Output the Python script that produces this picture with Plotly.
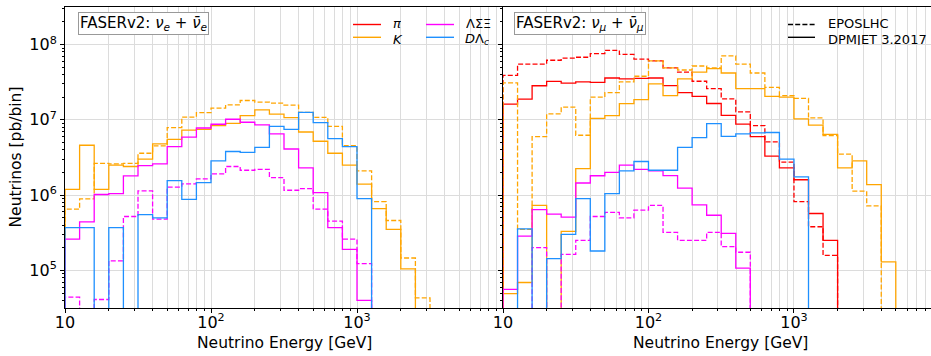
import numpy as np
import plotly.graph_objects as go

W, H = 931, 356

# bin edges: 10 log bins per decade, 10 GeV .. 10 TeV
bin_edges = np.logspace(1, 4, 31)

# ---------------- nu_e panel ----------------
nue_K_epos = [6.5e5, 8.9e5, 2.65e6, 2.6e6, 2.65e6, 3.6e6, 4.5e6, 7.9e6, 1.09e7, 1.25e7,
              1.43e7, 1.58e7, 1.81e7, 1.72e7, 1.67e7, 1.57e7, 1.26e7, 1.08e7, 8.2e6, 4.55e6,
              2.1e6, 8.2e5, 4.6e5, 1.46e5, 4.3e4, 0, 0, 0, 0, 0]
nue_K_dpmjet = [1.19e6, 4.6e6, 1.19e6, 2.5e6, 2.4e6, 3.0e6, 4.8e6, 5.5e6, 7.3e6, 7.5e6,
                8.4e6, 9.0e6, 1.14e7, 1.36e7, 1.19e7, 1.07e7, 6.9e6, 5.2e6, 3.6e6, 2.5e6,
                1.4e6, 6.6e5, 3.5e5, 1.05e5, 0, 0, 0, 0, 0, 0]
nue_L_epos = [4.4e4, 0, 4.1e4, 1.34e5, 5.2e5, 1.14e6, 4.8e5, 1.28e6, 1.41e6, 1.64e6,
              1.92e6, 2.4e6, 2.14e6, 2.2e6, 1.71e6, 1.16e6, 1.22e6, 6.5e5, 4.5e5, 2.6e5,
              1.23e5, 0, 0, 0, 0, 0, 0, 0, 0, 0]
nue_L_dpmjet = [2.6e5, 4.4e5, 1.02e6, 1.05e6, 1.8e6, 2.47e6, 2.6e6, 4.4e6, 5.9e6, 7.8e6,
                8.75e6, 1.02e7, 9.3e6, 8.6e6, 6.5e6, 4.1e6, 2.3e6, 1.08e6, 3.7e5, 1.9e5,
                4.0e4, 0, 0, 0, 0, 0, 0, 0, 0, 0]
nue_D_dpmjet = [3.7e5, 3.7e5, 0, 3.7e5, 0, 5.5e5, 5.0e5, 1.56e6, 8.8e5, 1.47e6,
                2.86e6, 3.8e6, 3.7e6, 4.3e6, 8.2e6, 7.5e6, 1.26e7, 9.2e6, 5.65e6, 4.4e6,
                9.0e5, 0, 0, 0, 0, 0, 0, 0, 0, 0]

# ---------------- nu_mu panel ----------------
numu_pi_epos = [3.9e7, 5.5e7, 5.5e7, 6.2e7, 6.6e7, 6.8e7, 7.6e7, 8.4e7, 7.4e7, 6.4e7,
                6.1e7, 4.9e7, 4.3e7, 3.26e7, 2.6e7, 1.9e7, 1.28e7, 8.4e6, 5.1e6, 2.75e6,
                8.2e5, 3.8e5, 1.58e5, 0, 0, 0, 0, 0, 0, 0]
numu_pi_dpmjet = [1.62e7, 1.89e7, 2.84e7, 3.24e7, 3.08e7, 3.2e7, 3.15e7, 3.6e7, 3.5e7, 3.56e7,
                  3.6e7, 2.85e7, 2.3e7, 2.05e7, 1.65e7, 1.15e7, 8.8e6, 6.0e6, 3.3e6, 2.3e6,
                  1.6e6, 5.7e5, 2.5e5, 0, 0, 0, 0, 0, 0, 0]
numu_K_epos = [3.1e7, 3.5e5, 6.0e6, 1.2e7, 1.48e7, 6.25e6, 2.0e7, 2.3e7, 3.2e7, 3.8e7,
               6.1e7, 4.9e7, 4.6e7, 5.2e7, 4.9e7, 7.1e7, 5.5e7, 4.2e7, 2.7e7, 2.1e7,
               1.93e7, 1.06e7, 6.2e6, 3.5e6, 1.13e6, 7.2e5, 0, 0, 0, 0]
numu_K_dpmjet = [4.9e4, 6.9e4, 7.3e5, 0, 3.3e5, 2.25e6, 1.05e7, 1.14e7, 1.64e7, 1.86e7,
                 3.0e7, 2.1e7, 3.5e7, 4.3e7, 4.8e7, 4.2e7, 2.6e7, 2.6e7, 2.05e7, 2.0e7,
                 1.03e7, 8.5e6, 6.4e6, 2.3e6, 2.85e6, 1.38e6, 1.3e5, 0, 0, 0]
numu_L_epos = [0, 0, 2.0e5, 0, 1.63e5, 2.5e5, 5.2e5, 5.9e5, 5.0e5, 6.3e5,
               7.3e5, 3.2e5, 2.5e5, 2.5e5, 3.2e5, 2.07e5, 1.74e5, 0, 0, 0,
               0, 0, 0, 0, 0, 0, 0, 0, 0, 0]
numu_L_dpmjet = [5.6e4, 2.85e5, 6.4e5, 5.6e5, 5.1e5, 1.45e6, 1.81e6, 2.0e6, 2.5e6, 2.2e6,
                 2.1e6, 1.82e6, 1.24e6, 7.4e5, 5.4e5, 3.1e5, 1.07e5, 0, 0, 0,
                 0, 0, 0, 0, 0, 0, 0, 0, 0, 0]
numu_D_dpmjet = [0, 3.56e5, 0, 1.43e5, 3.0e5, 9.0e5, 1.81e5, 1.05e6, 2.1e6, 2.8e6,
                 2.14e6, 2.14e6, 4.3e6, 5.8e6, 8.9e6, 6.05e6, 6.5e6, 6.7e6, 6.8e6, 3.0e6,
                 1.75e6, 0, 0, 0, 0, 0, 0, 0, 0, 0]

x_tickvals = [10, 100, 1000]
x_ticktext = ["10", "10<sup>2</sup>", "10<sup>3</sup>"]
y_tickvals = [1e5, 1e6, 1e7, 1e8]
y_ticktext = ["10<sup>5</sup>", "10<sup>6</sup>", "10<sup>7</sup>", "10<sup>8</sup>"]

RED, ORANGE, MAGENTA, BLUE = "#ff0000", "#ffa500", "#ff00ff", "#1e90ff"
FONT = "DejaVu Sans"


def px(xp):
    return xp / W


def py(yp):
    return 1 - yp / H


def step(vals):
    v = np.asarray(vals, float)
    floor = 1.0
    v = np.where(v > 0, v, floor)
    x = np.concatenate([[bin_edges[0]], bin_edges[:-1], [bin_edges[-1], bin_edges[-1]]])
    y = np.concatenate([[floor], v, [v[-1], floor]])
    return x, y


fig = go.Figure()


def add(vals, color, dashed, xa, ya):
    x, y = step(vals)
    fig.add_trace(go.Scatter(
        x=x, y=y, mode="lines", line_shape="hv", xaxis=xa, yaxis=ya,
        line=dict(color=color, width=1.3, dash="5px,2.2px" if dashed else "solid"),
        showlegend=False, hoverinfo="skip"))


# left panel
add(nue_K_epos, ORANGE, True, "x", "y")
add(nue_K_dpmjet, ORANGE, False, "x", "y")
add(nue_L_epos, MAGENTA, True, "x", "y")
add(nue_L_dpmjet, MAGENTA, False, "x", "y")
add(nue_D_dpmjet, BLUE, False, "x", "y")
# right panel
add(numu_pi_epos, RED, True, "x2", "y2")
add(numu_pi_dpmjet, RED, False, "x2", "y2")
add(numu_K_epos, ORANGE, True, "x2", "y2")
add(numu_K_dpmjet, ORANGE, False, "x2", "y2")
add(numu_L_epos, MAGENTA, True, "x2", "y2")
add(numu_L_dpmjet, MAGENTA, False, "x2", "y2")
add(numu_D_dpmjet, BLUE, False, "x2", "y2")

x_minor = [m * 10 ** d for d in (1, 2, 3) for m in range(2, 10)]
y_minor = [m * 10 ** d for d in (4, 5, 6, 7, 8) for m in range(2, 10)]

GRID = "#dcdcdc"
tickfont = dict(family=FONT, size=16, color="black")

xcommon = dict(type="log", showline=True, linecolor="black", linewidth=1, mirror=True,
               ticks="outside", ticklen=4, tickcolor="black", tickwidth=1,
               tickvals=x_tickvals, ticktext=x_ticktext, tickfont=tickfont,
               ticklabelstandoff=-4,
               showgrid=True, gridcolor=GRID, gridwidth=1, zeroline=False,
               minor=dict(tickvals=x_minor, ticks="outside", ticklen=2, tickcolor="black",
                          showgrid=True, gridcolor=GRID, gridwidth=1),
               automargin=False)
ycommon = dict(type="log", range=[4.5, 8.5], showline=True, linecolor="black", linewidth=1,
               mirror=False, ticks="outside", ticklen=4, tickcolor="black", tickwidth=1,
               tickvals=y_tickvals, ticktext=y_ticktext, tickfont=tickfont,
               showgrid=True, gridcolor=GRID, gridwidth=1, zeroline=False,
               minor=dict(tickvals=y_minor, ticks="outside", ticklen=2, tickcolor="black",
                          showgrid=False),
               domain=[py(308), py(7)], automargin=False)

fig.update_layout(
    width=W, height=H, margin=dict(l=0, r=0, t=0, b=0),
    paper_bgcolor="white", plot_bgcolor="white",
    font=dict(family=FONT, size=14, color="black"),
    xaxis=dict(xcommon, domain=[px(65), px(503)], range=[1, 4], anchor="y"),
    xaxis2=dict(xcommon, domain=[px(503), 1.0], range=[1, 3.942], anchor="y2"),
    yaxis=dict(ycommon, anchor="x"),
    yaxis2=dict(ycommon, anchor="x2", showticklabels=False),
    showlegend=False,
)

ann = []
# axis titles
ann.append(dict(text="Neutrino Energy [GeV]", x=px(284), y=py(342.5), xref="paper", yref="paper",
                showarrow=False, xanchor="center", yanchor="middle", font=dict(size=15.5)))
ann.append(dict(text="Neutrino Energy [GeV]", x=px(720), y=py(342.5), xref="paper", yref="paper",
                showarrow=False, xanchor="center", yanchor="middle", font=dict(size=15.5)))
ann.append(dict(text="Neutrinos [pb/bin]", x=px(16), y=py(157.5), xref="paper", yref="paper",
                showarrow=False, xanchor="center", yanchor="middle", textangle=-90,
                font=dict(size=15.5)))
# panel labels
box = dict(xref="paper", yref="paper", showarrow=False, xanchor="center", yanchor="middle",
           bordercolor="#999999", borderwidth=1, borderpad=1, bgcolor="white",
           font=dict(size=15))
ann.append(dict(box, text="FASERv2: <i>ν</i><sub><i>e</i></sub> + <i>ν̄</i><sub><i>e</i></sub>",
                x=px(143.5), y=py(23.5)))
ann.append(dict(box, text="FASERv2: <i>ν</i><sub><i>μ</i></sub> + <i>ν̄</i><sub><i>μ</i></sub>",
                x=px(579.5), y=py(24)))

# legends (manual): line sample y, text y
shapes = []
leg_items = [
    (353, 381, 24.5, 23.2, RED, "solid", "<i>π</i>", 391),
    (353, 381, 37.3, 38.6, ORANGE, "solid", "<i>K</i>", 391),
    (426, 454, 24.5, 23.2, MAGENTA, "solid", "ΛΣΞ", 464),
    (426, 454, 37.3, 38.6, BLUE, "solid", "<i>D</i>Λ<sub><i>c</i></sub>", 463),
    (788, 815, 24.5, 23.2, "black", "5px,2.2px", "EPOSLHC", 826),
    (788, 815, 37.3, 38.6, "black", "solid", "DPMJET 3.2017", 826),
]
for x0, x1, yl, yt, col, dash, label, tx in leg_items:
    shapes.append(dict(type="line", xref="paper", yref="paper", x0=px(x0), x1=px(x1),
                       y0=py(yl), y1=py(yl), line=dict(color=col, width=1.4, dash=dash)))
    ann.append(dict(text=label, x=px(tx), y=py(yt), xref="paper", yref="paper",
                    showarrow=False, xanchor="left", yanchor="middle", height=12,
                    font=dict(size=13)))

fig.update_layout(annotations=ann, shapes=shapes)

fig.write_html("out.html", config={"displayModeBar": False},
               post_script="document.body.style.margin='0px';document.body.style.overflow='hidden';")
